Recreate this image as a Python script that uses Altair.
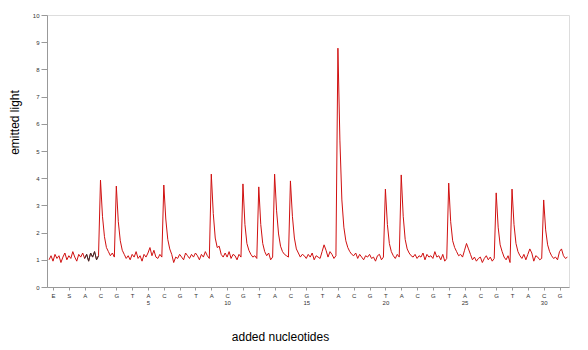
import altair as alt
import pandas as pd

# dispensation order (tick labels)
letters = ["E", "S"] + ["A", "C", "G", "T"] * 7 + ["A", "C", "G"]
num_pos = [6, 11, 16, 21, 26, 31]
num_text = ["5", "10", "15", "20", "25", "30"]

# trace values, 8 samples per dispensation, starting at x=-0.25
rows = [
    [1.0, 1.15],
    [0.95, 1.2, 1.05, 1.15, 0.9, 1.1, 1.25, 1.0],
    [1.15, 1.05, 1.3, 1.1, 0.95, 1.2, 1.1, 1.25],
    [1.05, 1.2, 0.95, 1.25, 1.1, 1.3, 1.0, 1.15],
    [3.93, 2.6, 1.85, 1.45, 1.3, 1.15, 1.25, 1.1],
    [3.71, 2.4, 1.7, 1.35, 1.2, 1.05, 1.15, 1.0],
    [1.2, 1.1, 1.3, 1.05, 1.15, 0.95, 1.2, 1.1],
    [1.25, 1.45, 1.15, 1.35, 1.1, 1.05, 1.2, 1.1],
    [3.75, 2.5, 1.75, 1.4, 1.2, 0.9, 1.1, 1.05],
    [1.2, 1.1, 1.0, 1.25, 1.15, 1.05, 1.2, 1.1],
    [1.25, 1.15, 1.0, 1.2, 1.1, 1.3, 1.15, 1.05],
    [4.15, 2.7, 1.8, 1.45, 1.5, 1.2, 1.1, 1.25],
    [1.1, 1.3, 1.05, 1.2, 1.15, 1.0, 1.2, 1.1],
    [3.79, 2.3, 1.6, 1.35, 1.2, 1.1, 1.15, 1.05],
    [3.68, 2.3, 1.6, 1.3, 1.15, 1.25, 1.0, 1.1],
    [4.15, 2.8, 1.95, 1.5, 1.3, 1.2, 1.15, 1.1],
    [3.9, 2.6, 1.8, 1.4, 1.25, 1.1, 1.2, 1.15],
    [1.05, 1.2, 1.1, 1.25, 1.0, 1.15, 1.1, 1.05],
    [1.3, 1.55, 1.35, 1.1, 1.3, 1.2, 1.05, 1.15],
    [8.78, 5.4, 3.2, 2.2, 1.7, 1.45, 1.3, 1.2],
    [1.15, 1.25, 1.05, 1.2, 1.1, 1.0, 1.15, 1.1],
    [1.2, 1.05, 1.1, 0.95, 1.15, 1.2, 1.0, 1.1],
    [3.6, 2.3, 1.6, 1.3, 1.15, 1.05, 1.2, 1.1],
    [4.12, 2.6, 1.75, 1.4, 1.25, 1.15, 1.1, 1.2],
    [1.05, 1.15, 1.1, 1.25, 1.0, 1.2, 1.1, 1.15],
    [1.05, 1.3, 1.1, 1.15, 1.0, 1.2, 0.95, 1.05],
    [3.82, 2.4, 1.7, 1.45, 1.3, 1.15, 1.2, 1.1],
    [1.35, 1.6, 1.4, 1.2, 1.0, 1.1, 0.95, 1.05],
    [1.1, 0.9, 1.05, 1.15, 1.0, 1.1, 0.95, 1.05],
    [3.46, 2.2, 1.55, 1.3, 1.1, 1.0, 1.15, 0.9],
    [3.6, 2.3, 1.6, 1.3, 1.15, 1.05, 1.2, 1.0],
    [1.2, 1.4, 1.25, 0.95, 1.15, 1.1, 1.0, 1.05],
    [3.2, 2.1, 1.55, 1.3, 1.15, 1.05, 1.1, 1.0],
    [1.3, 1.4, 1.15, 1.05, 1.1],
]

vals = [v for r in rows for v in r]
xs = [-0.25 + i / 8 for i in range(len(vals))]
trace = pd.DataFrame({"x": xs, "y": vals, "seg": "r"})
black = trace[(trace.x >= 2.0) & (trace.x <= 2.9)].copy()
black["seg"] = "k"
data = pd.concat([trace, black], ignore_index=True)

# tick labels: letter, with the nucleotide number below where shown
entries = []
for i, l in enumerate(letters):
    if i in num_pos:
        entries.append("['%s','%s']" % (l, num_text[num_pos.index(i)]))
    else:
        entries.append("'%s'" % l)
label_js = "[" + ",".join(entries) + "][datum.value]"

chart = alt.Chart(data).mark_line(strokeWidth=1).encode(
    x=alt.X("x:Q", scale=alt.Scale(domain=[-0.38, 32.6], nice=False, zero=False),
            axis=alt.Axis(values=list(range(33)), labelExpr=label_js,
                          labelOverlap=False, labelFlush=False, labelLineHeight=7,
                          title="added nucleotides", titleFont="Liberation Sans",
                          titleFontSize=12, titleFontWeight="normal", titleColor="black",
                          titleX=233, titleY=44, labelFontSize=6, labelColor="#333",
                          tickSize=3, labelPadding=2, grid=False, domainColor="#999",
                          tickColor="#999", labelFont="Liberation Sans")),
    y=alt.Y("y:Q", scale=alt.Scale(domain=[0, 10], nice=False),
            axis=alt.Axis(values=list(range(11)), title="emitted light",
                          labelOverlap=False, labelFlush=False,
                          titleFont="Liberation Sans", titleFontSize=12,
                          titleFontWeight="normal", titleColor="black",
                          titleX=-33, titleY=107, titleBaseline="middle", titleAngle=270,
                          labelFontSize=6, labelColor="#333", tickSize=6, labelPadding=2,
                          grid=False, domainColor="#999", tickColor="#999",
                          labelFont="Liberation Sans")),
    color=alt.Color("seg:N", scale=alt.Scale(domain=["r", "k"], range=["#d01010", "#333333"]),
                    legend=None),
    order="x:Q",
).properties(
    width=522, height=272, autosize="none",
    padding={"left": 39, "top": 7, "right": 11, "bottom": 55},
).configure_view(stroke="#999", strokeWidth=1).configure(background="white")

chart.save("out.html", embed_options={"renderer": "svg", "actions": False})
